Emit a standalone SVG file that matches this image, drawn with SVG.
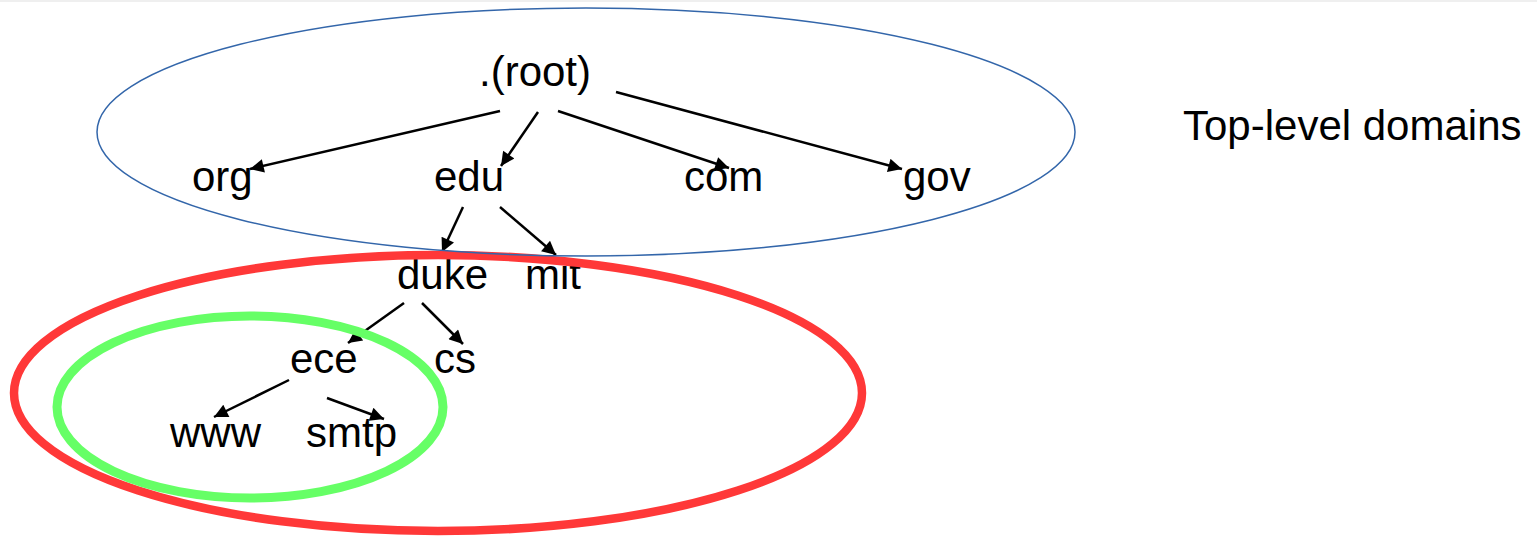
<svg xmlns="http://www.w3.org/2000/svg" width="1537" height="538" viewBox="0 0 1537 538">
<defs>
<marker id="ah" viewBox="0 0 10 10" refX="10" refY="5" markerWidth="6.5" markerHeight="5.5" markerUnits="strokeWidth" orient="auto">
<path d="M0,0 L10,5 L0,10 z" fill="#000"/>
</marker>
<style>
text{font-family:"Liberation Sans",Arial,sans-serif;font-size:42px;fill:#000}
.c line{stroke:#000;stroke-width:2.5;marker-end:url(#ah)}
.ring{fill:none}
</style>
</defs>
<rect width="1537" height="538" fill="#fff"/>
<rect x="0" y="0" width="1537" height="2" fill="#efefef"/>
<g id="n-root"><text x="479" y="86">.(root)</text></g>
<g id="n-org"><text x="192" y="191">org</text></g>
<g id="n-edu"><text x="434" y="191">edu</text></g>
<g id="n-com"><text x="684" y="191">com</text></g>
<g id="n-gov"><text x="903" y="191">gov</text></g>
<g id="n-duke"><text x="397" y="289">duke</text></g>
<g id="n-mit"><text x="525" y="289">mit</text></g>
<g id="n-ece"><text x="290" y="373">ece</text></g>
<g id="n-cs"><text x="434" y="373">cs</text></g>
<g id="n-www"><text x="170" y="447">www</text></g>
<g id="n-smtp"><text x="306" y="447">smtp</text></g>
<g id="label-tld"><text x="1183" y="140">Top-level domains</text></g>
<g class="c" id="connectors">
<line x1="500" y1="111" x2="250" y2="169"/>
<line x1="538" y1="112" x2="501" y2="166"/>
<line x1="558" y1="111" x2="729" y2="168"/>
<line x1="616" y1="92" x2="902" y2="169"/>
<line x1="463" y1="207" x2="442" y2="252"/>
<line x1="500" y1="207" x2="556" y2="255"/>
<line x1="404" y1="303" x2="348" y2="343"/>
<line x1="422" y1="303" x2="463" y2="344"/>
<line x1="289" y1="380" x2="214" y2="417"/>
<line x1="327" y1="398" x2="384" y2="419"/>
</g>
<g id="zone-red"><ellipse class="ring" cx="438" cy="393" rx="424" ry="138" stroke="#FF3838" stroke-width="8.5"/></g>
<g id="zone-green"><ellipse class="ring" cx="250" cy="407" rx="193" ry="91" stroke="#66FF66" stroke-width="9"/></g>
<g id="zone-blue"><ellipse class="ring" cx="586" cy="132" rx="489" ry="124" stroke="#3366AA" stroke-width="1.5"/></g>
</svg>
